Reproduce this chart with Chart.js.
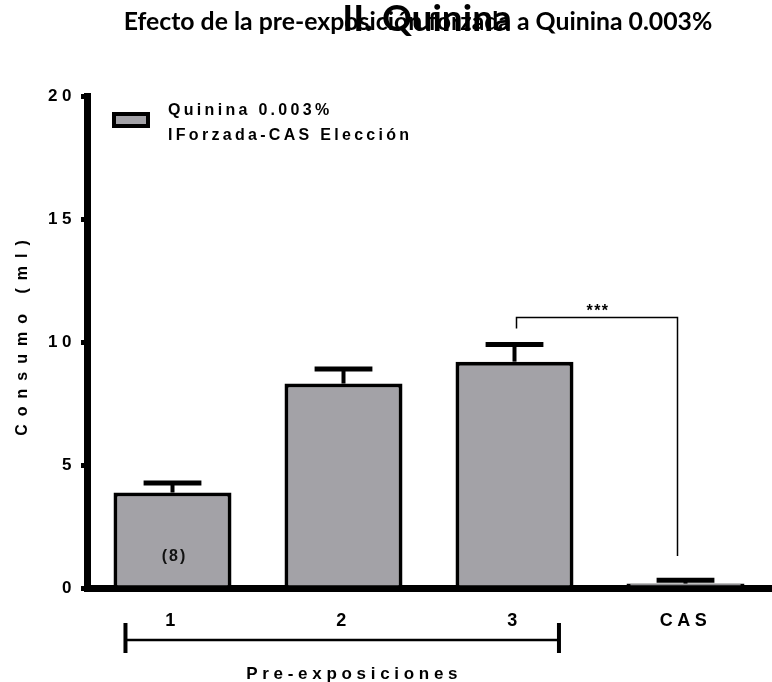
<!DOCTYPE html>
<html>
<head>
<meta charset="utf-8">
<script src="https://cdn.jsdelivr.net/npm/chart.js@4"></script>
<style>
  html, body { margin: 0; padding: 0; background: #fff; }
</style>
</head>
<body>
<canvas id="chart" width="772" height="682"></canvas>
<script>
// consumo por pre-exposicion (media + EEM)
var categories = ['1', '2', '3', 'CAS'];
var consumo = [3.88, 8.31, 9.2, 0.18];
var eem = [0.39, 0.59, 0.70, 0.13];
var legendLines = ['Quinina 0.003%', 'IForzada-CAS Elección'];
var yTicks = [0, 5, 10, 15, 20];
var nLabel = '(8)';
var sigText = '***';

var barGray = '#a3a2a7';
var sansB = '"Liberation Sans", Arial, sans-serif';

var extras = {
  id: 'extras',
  beforeDraw: function (chart) {
    chart.ctx.letterSpacing = '4.5px';
  },
  afterDatasetsDraw: function (chart) {
    var ctx = chart.ctx;
    var x = chart.scales.x, y = chart.scales.y;
    var meta = chart.getDatasetMeta(0);
    ctx.save();
    ctx.strokeStyle = '#000';
    for (var i = 0; i < consumo.length; i++) {
      var cx = x.getPixelForValue(i);
      var yb = y.getPixelForValue(consumo[i]);
      var yt = y.getPixelForValue(consumo[i] + eem[i]);
      var half = meta.data[i].width * 0.245;
      ctx.lineWidth = 4;
      ctx.beginPath(); ctx.moveTo(cx, yb); ctx.lineTo(cx, yt); ctx.stroke();
      ctx.lineWidth = 5;
      ctx.beginPath(); ctx.moveTo(cx - half, yt); ctx.lineTo(cx + half, yt); ctx.stroke();
    }
    // (8) dentro de la primera barra
    ctx.fillStyle = '#111';
    ctx.font = 'bold 16px ' + sansB;
    ctx.letterSpacing = '2px';
    ctx.textAlign = 'center';
    ctx.textBaseline = 'middle';
    ctx.fillText(nLabel, x.getPixelForValue(0) + 2, y.getPixelForValue(1.28));
    ctx.restore();
  },
  afterDraw: function (chart) {
    var ctx = chart.ctx;
    var x = chart.scales.x, y = chart.scales.y;
    ctx.save();
    ctx.fillStyle = '#000';
    ctx.strokeStyle = '#000';

    // titulos superpuestos
    ctx.letterSpacing = '0px';
    ctx.textAlign = 'center';
    ctx.textBaseline = 'alphabetic';
    ctx.font = 'bold 24.8px Lato, sans-serif';
    ctx.fillText('Efecto de la pre-exposición forzada a Quinina 0.003%', 418, 30);
    ctx.font = 'bold 37px Lato, sans-serif';
    ctx.fillText('II. Quinina', 427, 31);

    // leyenda
    ctx.fillStyle = barGray;
    ctx.fillRect(112, 112, 38, 16);
    ctx.lineWidth = 4;
    ctx.strokeRect(114, 114, 34, 12);
    ctx.fillStyle = '#000';
    ctx.font = 'bold 16px ' + sansB;
    ctx.letterSpacing = '3.3px';
    ctx.textAlign = 'left';
    ctx.textBaseline = 'middle';
    ctx.fillText(legendLines[0], 168, 111);
    ctx.fillText(legendLines[1], 168, 136);

    // titulo eje Y
    ctx.save();
    ctx.translate(23, 334);
    ctx.rotate(-Math.PI / 2);
    ctx.textAlign = 'center';
    ctx.font = 'bold 16px ' + sansB;
    ctx.letterSpacing = '8px';
    ctx.fillText('Consumo (ml)', 0, 0);
    ctx.restore();

    // significancia 3 vs CAS
    var xl = x.getPixelForValue(2) + 2;
    var xr = x.getPixelForValue(3) - 8;
    ctx.lineWidth = 1.5;
    ctx.beginPath();
    ctx.moveTo(xl, y.getPixelForValue(10.55));
    ctx.lineTo(xl, y.getPixelForValue(11.0));
    ctx.lineTo(xr, y.getPixelForValue(11.0));
    ctx.lineTo(xr, y.getPixelForValue(1.3));
    ctx.stroke();
    ctx.font = 'bold 16px ' + sansB;
    ctx.letterSpacing = '1.5px';
    ctx.textAlign = 'center';
    ctx.textBaseline = 'alphabetic';
    ctx.fillText(sigText, (xl + xr) / 2 + 1, y.getPixelForValue(11.0) - 1);

    // corchete pre-exposiciones
    var step = x.getPixelForValue(1) - x.getPixelForValue(0);
    var bl = x.getPixelForValue(0) - step * 0.275;
    var br = x.getPixelForValue(2) + step * 0.26;
    var by = 640;
    ctx.lineWidth = 2.5;
    ctx.beginPath(); ctx.moveTo(bl, by); ctx.lineTo(br, by); ctx.stroke();
    ctx.lineWidth = 4;
    ctx.beginPath();
    ctx.moveTo(bl, by - 17); ctx.lineTo(bl, by + 13);
    ctx.moveTo(br, by - 17); ctx.lineTo(br, by + 13);
    ctx.stroke();
    ctx.font = 'bold 17px ' + sansB;
    ctx.letterSpacing = '4.7px';
    ctx.textBaseline = 'middle';
    ctx.fillText('Pre-exposiciones', (bl + br) / 2 + 12, 674);
    ctx.restore();
  }
};

new Chart('chart', {
  type: 'bar',
  data: {
    labels: categories,
    datasets: [{
      label: legendLines.join(' '),
      data: consumo,
      backgroundColor: barGray,
      borderColor: '#000',
      borderWidth: 4,
      barPercentage: 0.69,
      categoryPercentage: 1
    }]
  },
  options: {
    responsive: false,
    animation: false,
    layout: { padding: { top: 96, right: 1, left: 0, bottom: 0 } },
    plugins: { legend: { display: false }, title: { display: false }, tooltip: { enabled: false } },
    scales: {
      x: {
        z: 1,
        grid: { display: false },
        border: { display: true, color: '#000', width: 7 },
        ticks: { color: '#000', padding: 14, font: { family: sansB, size: 18, weight: 'bold' } },
        afterFit: function (s) { s.height = 94; }
      },
      y: {
        z: 1,
        min: 0,
        max: 20,
        afterBuildTicks: function (s) { s.ticks = yTicks.map(function (v) { return { value: v }; }); },
        grid: { drawOnChartArea: false, drawTicks: true, tickLength: 6, lineWidth: 5, color: '#000' },
        border: { display: true, color: '#000', width: 7 },
        ticks: { color: '#000', padding: 5, font: { family: sansB, size: 17, weight: 'bold' } },
        afterFit: function (s) { s.width = 87; }
      }
    }
  },
  plugins: [extras]
});
</script>
</body>
</html>
